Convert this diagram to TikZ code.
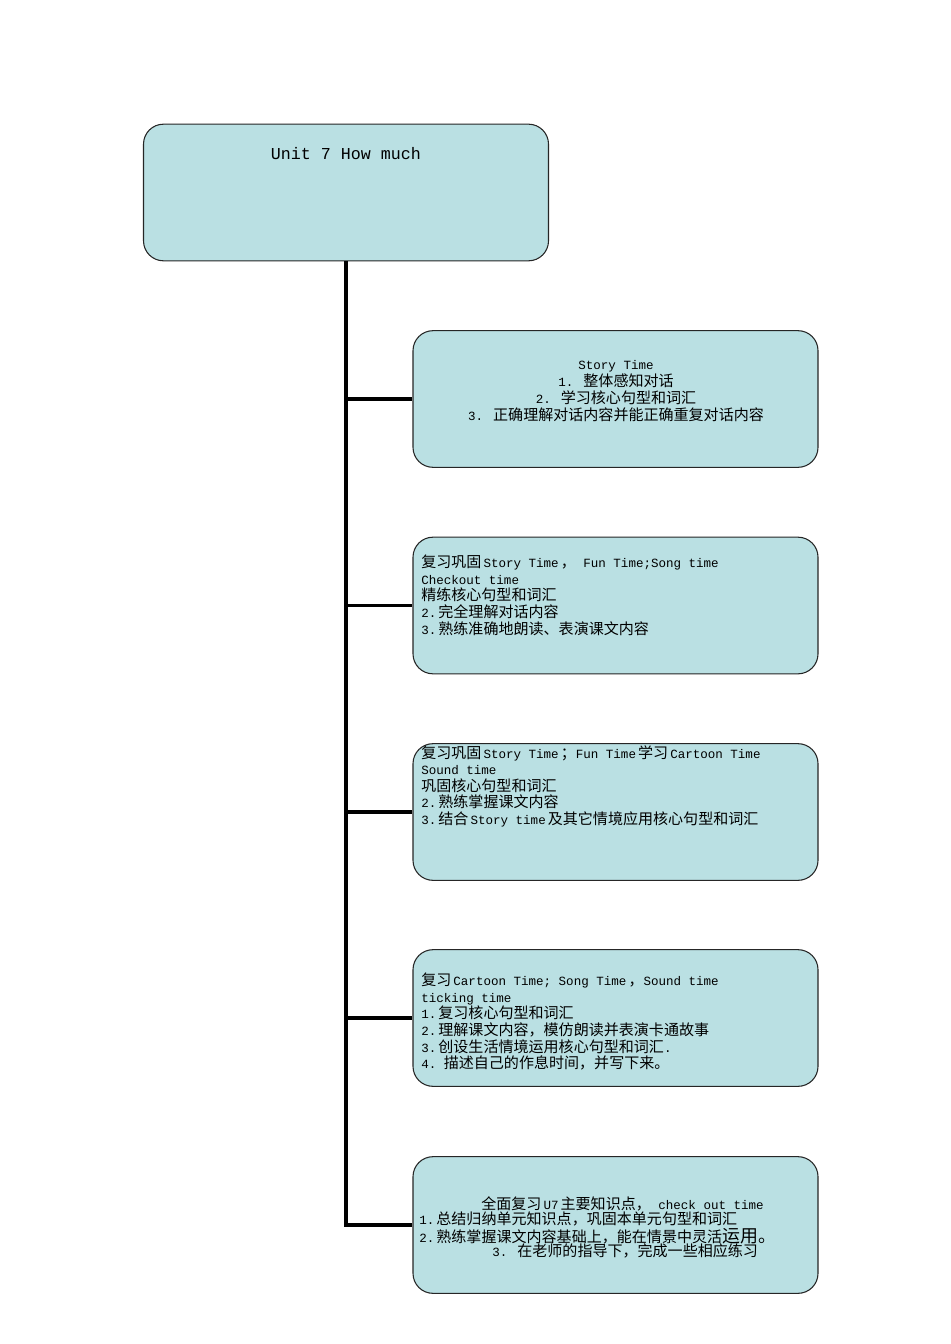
\documentclass[tikz,border=0pt]{standalone}
\usepackage{fontspec}
\setmainfont{Liberation Mono}
\newfontfamily\cjk{Noto Sans CJK SC}[Scale=1.2]
\newcommand{\zh}[1]{{\cjk #1}}
\definecolor{lb}{RGB}{186, 224, 227}

\begin{document}
\begin{tikzpicture}[x = 0.75pt, y = -0.75pt,
  box/.style = {draw = black!85, fill = lb, rounded corners = 15pt, line width = 0.8pt,
    minimum width = 303.75pt, minimum height = 102.5pt, inner sep = 0pt},
  txt/.style = {inner sep = 0pt, font = \fontsize{9.4}{12.4}\selectfont},
  link/.style = {line width = 2.4pt}]
\useasboundingbox (0,0) rectangle (950,1344);
\node[box] (title) at (346,192.5) {};
\node[box] (b1) at (615.5,399) {};
\node[box] (b2) at (615.5,605.5) {};
\node[box] (b3) at (615.5,812) {};
\node[box] (b4) at (615.5,1018) {};
\node[box] (b5) at (615.5,1225) {};
\foreach \i in {1,...,5}
  \draw[link] (title.south) |- (b\i.west);
\node[inner sep = 0pt, font = \fontsize{12.5}{14}\selectfont] (tt) at (346,154) {Unit 7 How much};
\node[txt, align = center, font = \fontsize{9.4}{12.75}\selectfont] (t1) at (616,391) {Story Time\\
  1. \zh{整体感知对话}\\
  2. \zh{学习核心句型和词汇}\\
  3. \zh{正确理解对话内容并能正确重复对话内容}};
\node[txt, align = left, anchor = north west] (t2) at (421,555) {\zh{复习巩固}\,Story Time\,\zh{，}\ Fun Time;Song time\\
  Checkout time\\
  \zh{精练核心句型和词汇}\\
  2.\,\zh{完全理解对话内容}\\
  3.\,\zh{熟练准确地朗读、表演课文内容}};
\node[txt, align = left, anchor = north west] (t3) at (421,745) {\zh{复习巩固}\,Story Time\,\zh{；}Fun Time\,\zh{学习}\,Cartoon Time\\
  Sound time\\
  \zh{巩固核心句型和词汇}\\
  2.\,\zh{熟练掌握课文内容}\\
  3.\,\zh{结合}\,Story time\,\zh{及其它情境应用核心句型和词汇}};
\node[txt, align = left, anchor = north west] (t4) at (421,973) {\zh{复习}\,Cartoon Time; Song Time\,\zh{，}Sound time\\
  ticking time\\
  1.\,\zh{复习核心句型和词汇}\\
  2.\,\zh{理解课文内容，模仿朗读并表演卡通故事}\\
  3.\,\zh{创设生活情境运用核心句型和词汇}.\\
  4.\ \zh{描述自己的作息时间，并写下来。}};
\node[txt, anchor = base west] (t5a) at (481,1209) {\zh{全面复习}\,U7\,\zh{主要知识点，}\ check out time};
\node[txt, anchor = base west] (t5b) at (419,1224) {1.\,\zh{总结归纳单元知识点，巩固本单元句型和词汇}};
\node[txt, anchor = base west] (t5c) at (419,1242) {2.\,\zh{熟练掌握课文内容基础上，能在情景中灵活}{\cjk\fontsize{11.2}{12.4}\selectfont 运用。}};
\node[txt, anchor = base west] (t5d) at (492,1256) {3. \zh{在老师的指导下，完成一些相应练习}};
\end{tikzpicture}
\end{document}
